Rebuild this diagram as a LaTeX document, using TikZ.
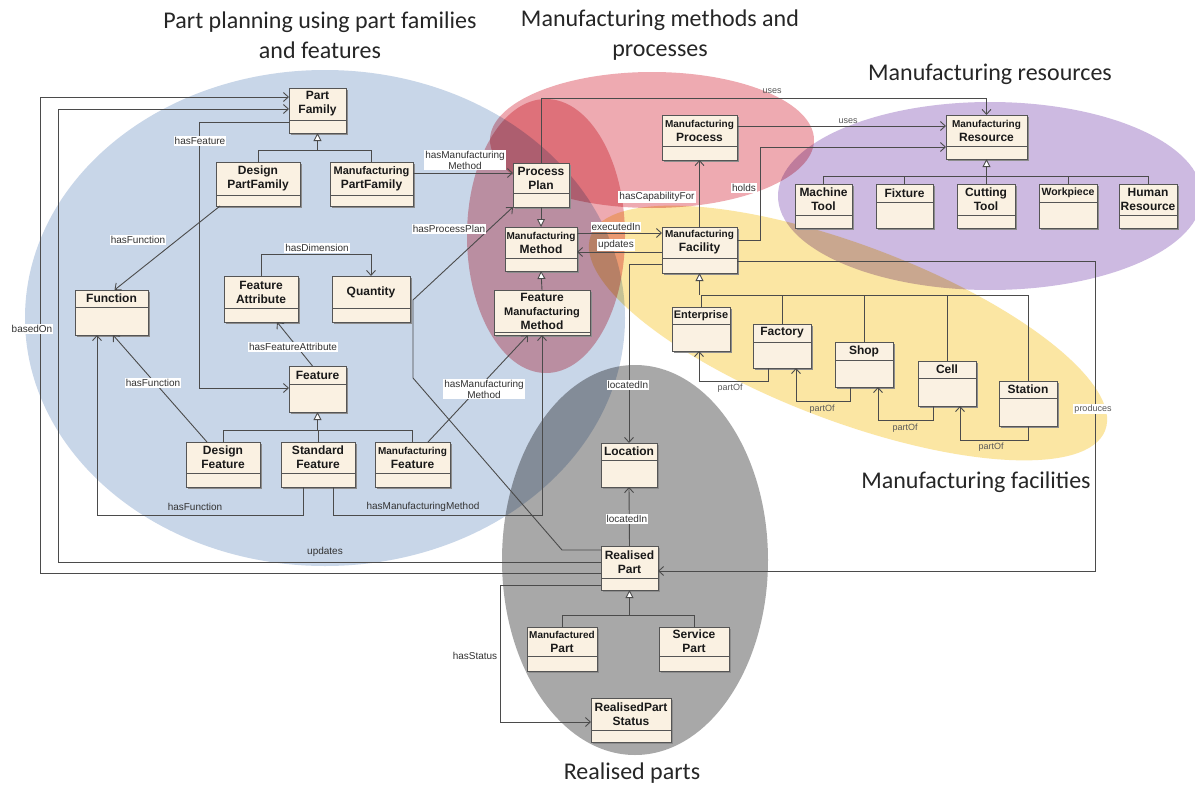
\documentclass[tikz,border=0pt]{standalone}
\usepackage{fontspec}
\setmainfont{Liberation Sans}
\newfontfamily\titlefont{Carlito}
\usetikzlibrary{arrows.meta,calc}
\definecolor{ebl}{RGB}{200,214,232}
\definecolor{ered}{RGB}{238,170,177}
\definecolor{eyel}{RGB}{251,230,163}
\definecolor{epur}{RGB}{205,186,225}
\definecolor{egry}{RGB}{168,168,168}
\definecolor{boxf}{RGB}{250,241,226}
\definecolor{boxd}{RGB}{85,85,85}
\definecolor{linec}{RGB}{75,75,75}
\definecolor{lblc}{RGB}{50,50,50}
\newcommand\mfs{\fontsize{10}{12}\selectfont}
\newcommand\umlbox[7]{%
  \fill[black!45] ($(#2,#3)+(1.5,1.5)$) rectangle ($(#4,#5)+(1.5,1.5)$);
  \node[boxst, minimum width={(#4-#2)*1pt}, minimum height={(#5-#3)*1pt}, anchor=north west] (#1) at (#2,#3) {};
  \draw[boxsep] (#2,#6) -- (#4,#6);
  \node[boxtxt] (#1-t) at ({(#2+#4)/2},{(#3+#6)/2}) {#7};
}
\tikzset{
  boxst/.style={draw=boxd, fill=boxf, line width=0.9pt, inner sep=0pt, outer sep=0pt, rectangle},
  boxsep/.style={draw=boxd, line width=0.8pt},
  boxtxt/.style={align=center, inner sep=0pt, font=\bfseries\fontsize{12}{14}\selectfont, text=black!90},
  conn/.style={draw=linec, line width=0.9pt},
  arr/.style={conn, -{Straight Barb[length=5pt,width=9pt]}},
  gen/.style={conn, -{Triangle[length=8pt,width=8pt,fill=white]}},
  lbl/.style={font=\fontsize{10}{11}\selectfont, text=lblc, inner sep=1pt, align=center},
  lblw/.style={lbl, fill=white},
  lbls/.style={lbl, font=\fontsize{9}{10}\selectfont, text=black!65},
  ttl/.style={font=\titlefont\fontsize{24}{30}\selectfont, align=center, text=black!85},
}
\begin{document}
\begin{tikzpicture}[x=1pt,y=-1pt]
\useasboundingbox (0,0) rectangle (1195,787);
\fill[white] (0,0) rectangle (1195,787);
% regions
\begin{scope}[blend mode=multiply]
  \fill[ebl] (325,318) ellipse [x radius=300pt, y radius=248pt];
  \fill[ered] (652,140) ellipse [x radius=162pt, y radius=68pt];
  \fill[ered] (546,236) ellipse [x radius=79pt, y radius=137pt];
  \fill[eyel, rotate around={-20.7:(848,333)}] (848,333) ellipse [x radius=275pt, y radius=88pt];
  \fill[epur] (990,196) ellipse [x radius=212pt, y radius=94pt];
  \fill[egry] (635,560) ellipse [x radius=133pt, y radius=195pt];
\end{scope}
% titles
\node[ttl] (t1) at (320,35) {Part planning using part families\\and features};
\node[ttl] (t2) at (660,35) {Manufacturing methods and\\processes};
\node[ttl] (t3) at (990,74) {Manufacturing resources};
\node[ttl] (t4) at (976,482) {Manufacturing facilities};
\node[ttl] (t5) at (632,773) {Realised parts};
% boxes
\umlbox{pf}{289}{88}{346}{133}{120}{Part\\Family}
\umlbox{dpf}{216}{162}{300}{206}{195}{Design\\PartFamily}
\umlbox{mpf}{330}{162}{413}{206}{195}{{\fontsize{11}{12}\selectfont Manufacturing}\\PartFamily}
\umlbox{fn}{75}{290}{148}{335}{307}{Function}
\umlbox{fa}{224}{276}{298}{322}{308}{Feature\\Attribute}
\umlbox{qt}{332}{276}{410}{322}{308}{Quantity}
\umlbox{ft}{289}{366}{346}{412}{384}{Feature}
\umlbox{df}{186}{442}{260}{487}{473}{Design\\Feature}
\umlbox{sf}{281}{442}{355}{487}{473}{Standard\\Feature}
\umlbox{mf}{375}{442}{450}{487}{473}{{\mfs Manufacturing}\\Feature}
\umlbox{pp}{513}{163}{569}{207}{193}{Process\\Plan}
\umlbox{mm}{505}{227}{577}{271}{258}{{\mfs Manufacturing}\\Method}
\umlbox{fmm}{494}{290}{590}{335}{332}{Feature\\{\fontsize{11}{12}\selectfont Manufacturing}\\Method}
\umlbox{mp}{662}{115}{737}{160}{146}{{\mfs Manufacturing}\\Process}
\umlbox{mfa}{662}{227}{737}{273}{258}{{\mfs Manufacturing}\\Facility}
\umlbox{mr}{946}{115}{1027}{159}{146}{{\mfs Manufacturing}\\Resource}
\umlbox{mt}{795}{184}{852}{228}{215}{Machine\\Tool}
\umlbox{fx}{876}{184}{933}{228}{202}{Fixture}
\umlbox{ct}{957}{184}{1015}{228}{215}{Cutting\\Tool}
\umlbox{wp}{1039}{184}{1097}{228}{202}{{\fontsize{10.5}{12}\selectfont Workpiece}}
\umlbox{hr}{1119}{184}{1177}{228}{215}{Human\\Resource}
\umlbox{en}{672}{307}{730}{351}{324}{{\fontsize{11}{12}\selectfont Enterprise}}
\umlbox{fa2}{753}{324}{811}{368}{342}{Factory}
\umlbox{sh}{835}{342}{893}{387}{360}{Shop}
\umlbox{ce}{918}{361}{976}{406}{378}{Cell}
\umlbox{st}{999}{381}{1057}{426}{398}{Station}
\umlbox{lo}{601}{443}{657}{487}{460}{Location}
\umlbox{rp}{601}{546}{658}{590}{578}{Realised\\Part}
\umlbox{mpa}{527}{627}{597}{671}{656}{{\mfs Manufactured}\\Part}
\umlbox{sp}{659}{627}{729}{671}{656}{Service\\Part}
\umlbox{rps}{591}{698}{671}{742}{730}{RealisedPart\\Status}
% connectors: part planning
\draw[arr] (rp.west |- 0,573) -- (40,573) -- (40,97) -- (pf.west |- 0,97);
\draw[arr] (rp.west |- 0,562) -- (58,562) -- (58,109) -- (pf.west |- 0,109);
\draw[arr] (pf.west |- 0,122) -- (199,122) -- (199,388) -- (ft.west |- 0,388);
\draw[arr] ($(dpf.south west)+(4,0)$) -- ($(fn.north)+(3,0)$);
\draw[arr] (fa.north) -- (fa.north |- 0,254) -| (qt.north);
\draw[arr] ($(ft.north)+(-5,0)$) -- ($(fa.south)+(16,0)$);
\draw[conn] (df.north) |- (mf.north |- 0,430) -- (mf.north);
\draw[conn] (sf.north) -- (sf.north |- 0,430);
\draw[gen] (ft.south |- 0,430) -- (ft.south);
\draw[arr] ($(df.north west)+(21,0)$) -- ($(fn.south)+(1.5,0)$);
\draw[arr] ($(sf.south west)+(22,0)$) |- ($(fn.south west)+(22,180)$) -- ($(fn.south west)+(22,0)$);
\draw[arr] ($(sf.south west)+(52,0)$) |- ($(fmm.south)+(0,180)$) -- (fmm.south);
\draw[arr] ($(mf.north)+(15.5,0)$) -- ($(fmm.south)+(-14,0)$);
\draw[conn] (dpf.north) |- (mpf.north |- 0,150) -- (mpf.north);
\draw[gen] (pf.south |- 0,150) -- (pf.south);
\draw[arr] (mpf.east |- 0,173) -- (pp.west |- 0,173);
\draw[arr] (rp.west |- 0,550) -- (562,550) -- (413,378) -- (413,300) -- (pp.south west);
% methods / processes / resources
\draw[arr] (pp.north) |- (mr.north |- 0,98) -- (mr.north);
\draw[arr] (mp.east |- 0,126) -- (mr.west |- 0,126);
\draw[arr] (mfa.east |- 0,240) -| (760,147) -- (mr.west |- 0,147);
\draw[arr] (mfa.north) -- (mp.south);
\draw[arr] (mm.east |- 0,233) -- (mfa.west |- 0,233);
\draw[arr] (mfa.west |- 0,252) -- (mm.east |- 0,252);
\draw[gen] (pp.south) -- (mm.north);
\draw[gen] (fmm.north) -- (mm.south);
\draw[conn] (mt.north) |- (hr.north |- 0,176) -- (hr.north);
\draw[conn] (fx.north) -- (fx.north |- 0,176);
\draw[conn] (wp.north) -- (wp.north |- 0,176);
\draw[conn] (ct.north) -- (ct.north |- 0,176);
\draw[gen] (mr.south |- 0,176) -- (mr.south);
% facilities
\draw[arr] (mfa.west |- 0,264) -| (lo.north);
\draw[arr] (rp.north) -- (lo.south);
\draw[arr] (mfa.east |- 0,261) -- (1095,261) -- (1095,571) -- (rp.east |- 0,571);
\draw[conn] (en.north) |- (st.north |- 0,295) -- (st.north);
\draw[conn] (fa2.north) -- (fa2.north |- 0,295);
\draw[conn] (sh.north) -- (sh.north |- 0,295);
\draw[conn] (ce.north) -- (ce.north |- 0,295);
\draw[gen] (mfa.south |- 0,295) -- (mfa.south);
\draw[arr] ($(fa2.south west)+(15,0)$) |- ($(en.south)+(-2,30)$) -- ($(en.south)+(-2,0)$);
\draw[arr] ($(sh.south west)+(15,0)$) |- ($(fa2.south west)+(43,33)$) -- ($(fa2.south west)+(43,0)$);
\draw[arr] ($(ce.south west)+(15,0)$) |- ($(sh.south west)+(43,33)$) -- ($(sh.south west)+(43,0)$);
\draw[arr] (st.south) |- ($(ce.south west)+(42,34)$) -- ($(ce.south west)+(42,0)$);
% realised parts
\draw[conn] (mpa.north) |- (sp.north |- 0,615) -- (sp.north);
\draw[gen] (rp.south |- 0,615) -- (rp.south);
\draw[arr] (rp.west |- 0,585) -- (500,585) |- (rps.west |- 0,722);
% labels
\node[lblw] (l1) at (32,329) {basedOn};
\node[lbl] (l2) at (325,552) {updates};
\node[lblw] (l3) at (200,141) {hasFeature};
\node[lblw] (l4) at (138,240) {hasFunction};
\node[lblw] (l5) at (317,248) {hasDimension};
\node[lblw] (l6) at (293,347) {hasFeatureAttribute};
\node[lblw] (l7) at (153,383) {hasFunction};
\node[lbl] (l8) at (195,507) {hasFunction};
\node[lbl] (l9) at (423,507) {hasManufacturingMethod};
\node[lblw] (l10) at (484,389) {hasManufacturing\\Method};
\node[lblw] (l11) at (465,160) {hasManufacturing\\Method};
\node[lblw] (l12) at (449,229) {hasProcessPlan};
\node[lbls] (l13) at (772,91) {uses};
\node[lbls] (l14) at (848,121) {uses};
\node[lblw] (l15) at (744,188) {holds};
\node[lblw] (l16) at (657,197) {hasCapabilityFor};
\node[lblw] (l17) at (616,227) {executedIn};
\node[lblw] (l18) at (616,245) {updates};
\node[lblw] (l19) at (628,385) {locatedIn};
\node[lblw] (l20) at (627,519) {locatedIn};
\node[lbls, fill=white] (l21) at (1093,409) {produces};
\node[lbls] (l22) at (730,388) {partOf};
\node[lbls] (l23) at (822,409) {partOf};
\node[lbls] (l24) at (905,428) {partOf};
\node[lbls] (l25) at (991,447) {partOf};
\node[lbl] (l26) at (475,656) {hasStatus};
\end{tikzpicture}
\end{document}
